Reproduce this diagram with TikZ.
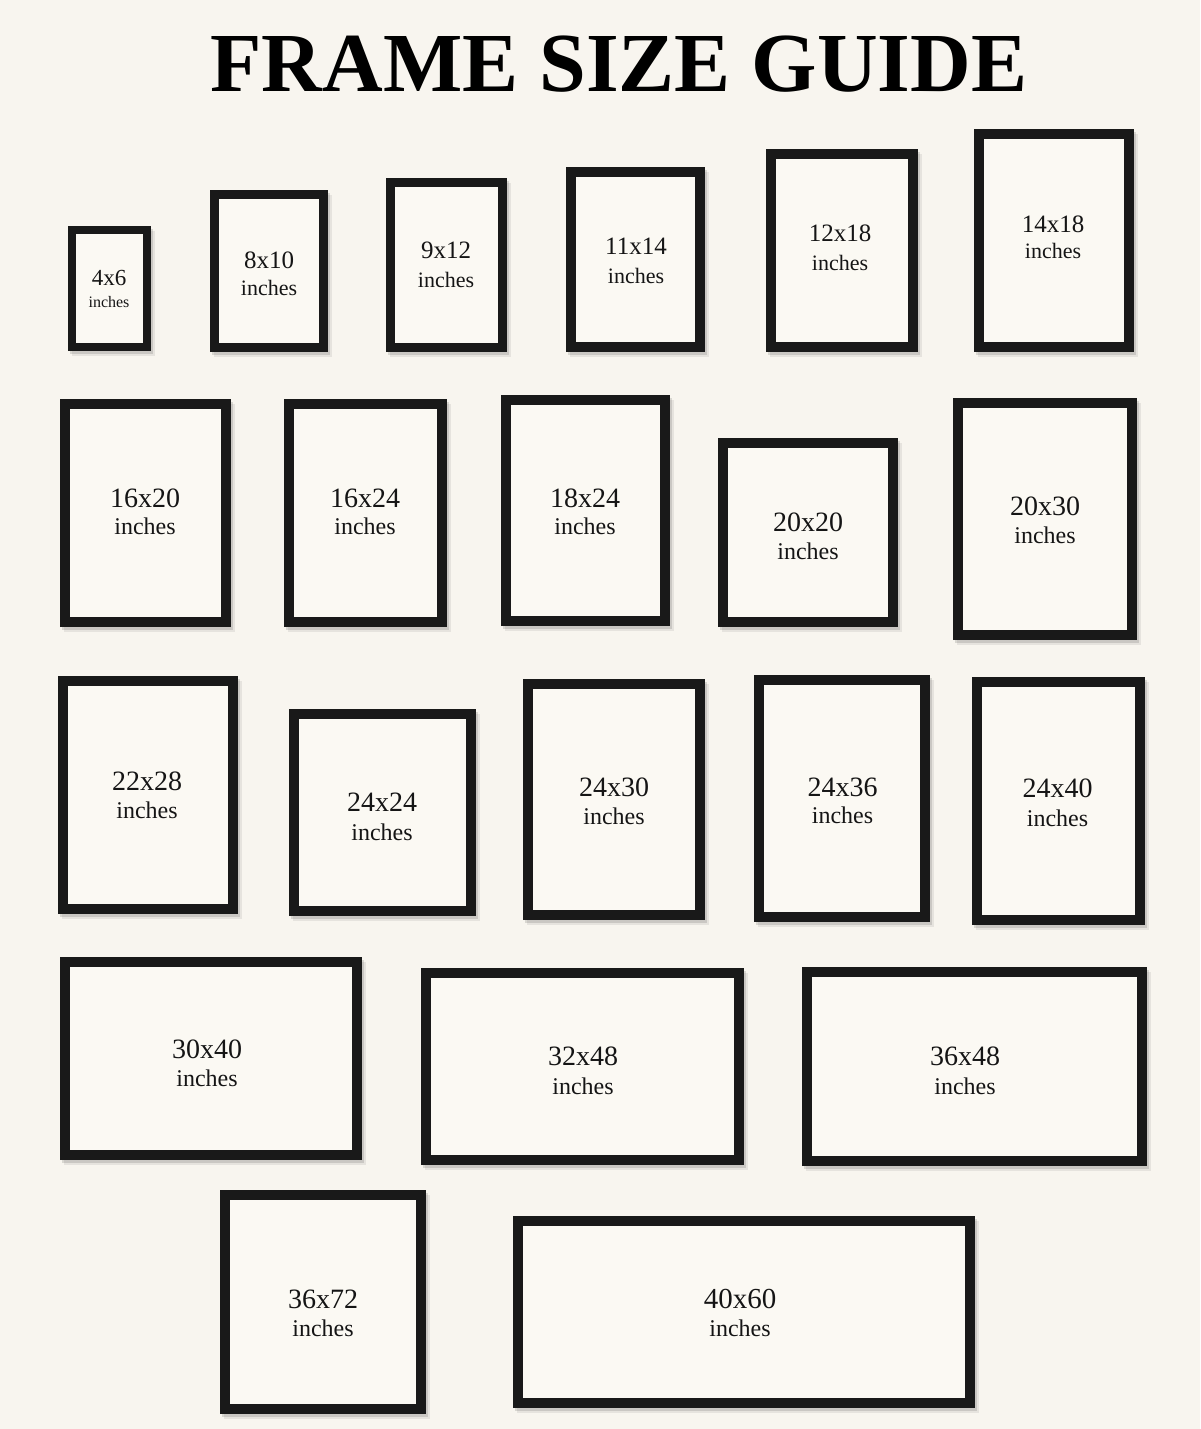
\documentclass[tikz,border=0pt]{standalone}
\usepackage{fontspec}
\setmainfont{Liberation Serif}
\usetikzlibrary{shadows}
\definecolor{bg}{HTML}{F8F5EF}
\definecolor{mat}{HTML}{FBF9F3}
\definecolor{wood}{HTML}{191919}
\definecolor{ink}{HTML}{151515}
\def\fw{10}
\tikzset{
  fw/.code={\def\fw{#1}},
  frm/.style={fill=wood, draw=none, inner sep=0pt, outer sep=0pt,
    drop shadow={shadow xshift=4pt, shadow yshift=-5pt, opacity=0.07, fill=black},
    drop shadow={shadow xshift=2pt, shadow yshift=-3pt, opacity=0.12, fill=black},
    path picture={\fill[mat] ([shift={(\fw pt,-\fw pt)}]path picture bounding box.north west)
        rectangle ([shift={(-\fw pt,\fw pt)}]path picture bounding box.south east);}},
  numtxt/.style={anchor=base, inner sep=0pt, text=ink},
  unittxt/.style={anchor=base, inner sep=0pt, text=ink},
  titletxt/.style={anchor=base, inner sep=0pt, text=black,
    font=\fontsize{84}{84}\selectfont\bfseries},
}
\newcommand\lbl[7]{%
  \node[numtxt, font=\fontsize{#6}{#6}\selectfont] (n#1) at (#2,#3) {#5};
  \node[unittxt, font=\fontsize{#7}{#7}\selectfont] (u#1) at (#2,#4) {inches};}
\newcommand\frm[6][10]{%
  \node[frm, fw=#1, minimum width=#4pt, minimum height=#5pt] (f#2) at #3 {};}
\begin{document}
\begin{tikzpicture}[x=1pt, y=-1pt]
\useasboundingbox (0,0) rectangle (1200,1429);
\fill[bg] (0,0) rectangle (1200,1429);

\node[titletxt] (title) at (619,92) {FRAME SIZE GUIDE};

% Row 1
\frm[8]{a}{(109.5,288.5)}{83}{125}{}
\frm[9]{b}{(269,271)}{118}{162}{}
\frm[9]{c}{(446.5,265)}{121}{174}{}
\frm{d}{(635.5,259.5)}{139}{185}{}
\frm{e}{(842,250.5)}{152}{203}{}
\frm{f}{(1054,240.5)}{160}{223}{}
% Row 2
\frm{g}{(145.5,513)}{171}{228}{}
\frm{h}{(365.5,513)}{163}{228}{}
\frm{i}{(585.5,510.5)}{169}{231}{}
\frm{j}{(808,532.5)}{180}{189}{}
\frm{k}{(1045,519)}{184}{242}{}
% Row 3
\frm{l}{(148,795)}{180}{238}{}
\frm{m}{(382.5,812.5)}{187}{207}{}
\frm{n}{(614,799.5)}{182}{241}{}
\frm{o}{(842,798.5)}{176}{247}{}
\frm{p}{(1058,800.5)}{173}{248}{}
% Row 4
\frm{q}{(211,1058.5)}{302}{203}{}
\frm{r}{(582.5,1066.5)}{323}{197}{}
\frm{s}{(974.5,1066.5)}{345}{199}{}
% Row 5
\frm{t}{(323,1302)}{206}{224}{}
\frm{u}{(744,1312)}{462}{192}{}

% Labels
\lbl{a}{109}{285}{307}{4x6}{23}{16}
\lbl{b}{269}{268}{295}{8x10}{25}{22}
\lbl{c}{446}{258}{287}{9x12}{25}{22}
\lbl{d}{636}{254}{283}{11x14}{25}{22}
\lbl{e}{840}{241}{270}{12x18}{25}{22}
\lbl{f}{1053}{232}{258}{14x18}{25}{22}
\lbl{g}{145}{507}{534}{16x20}{28}{24}
\lbl{h}{365}{507}{534}{16x24}{28}{24}
\lbl{i}{585}{507}{534}{18x24}{28}{24}
\lbl{j}{808}{531}{559}{20x20}{28}{24}
\lbl{k}{1045}{515}{543}{20x30}{28}{24}
\lbl{l}{147}{790}{818}{22x28}{28}{24}
\lbl{m}{382}{811}{840}{24x24}{28}{24}
\lbl{n}{614}{796}{824}{24x30}{28}{24}
\lbl{o}{842.5}{796}{823}{24x36}{28}{24}
\lbl{p}{1057.5}{797}{826}{24x40}{28}{24}
\lbl{q}{207}{1058}{1086}{30x40}{28}{24}
\lbl{r}{583}{1065}{1094}{32x48}{28}{24}
\lbl{s}{965}{1065}{1094}{36x48}{28}{24}
\lbl{t}{323}{1308}{1336}{36x72}{28}{24}
\lbl{u}{740}{1308}{1336}{40x60}{29}{24}
\end{tikzpicture}
\end{document}
